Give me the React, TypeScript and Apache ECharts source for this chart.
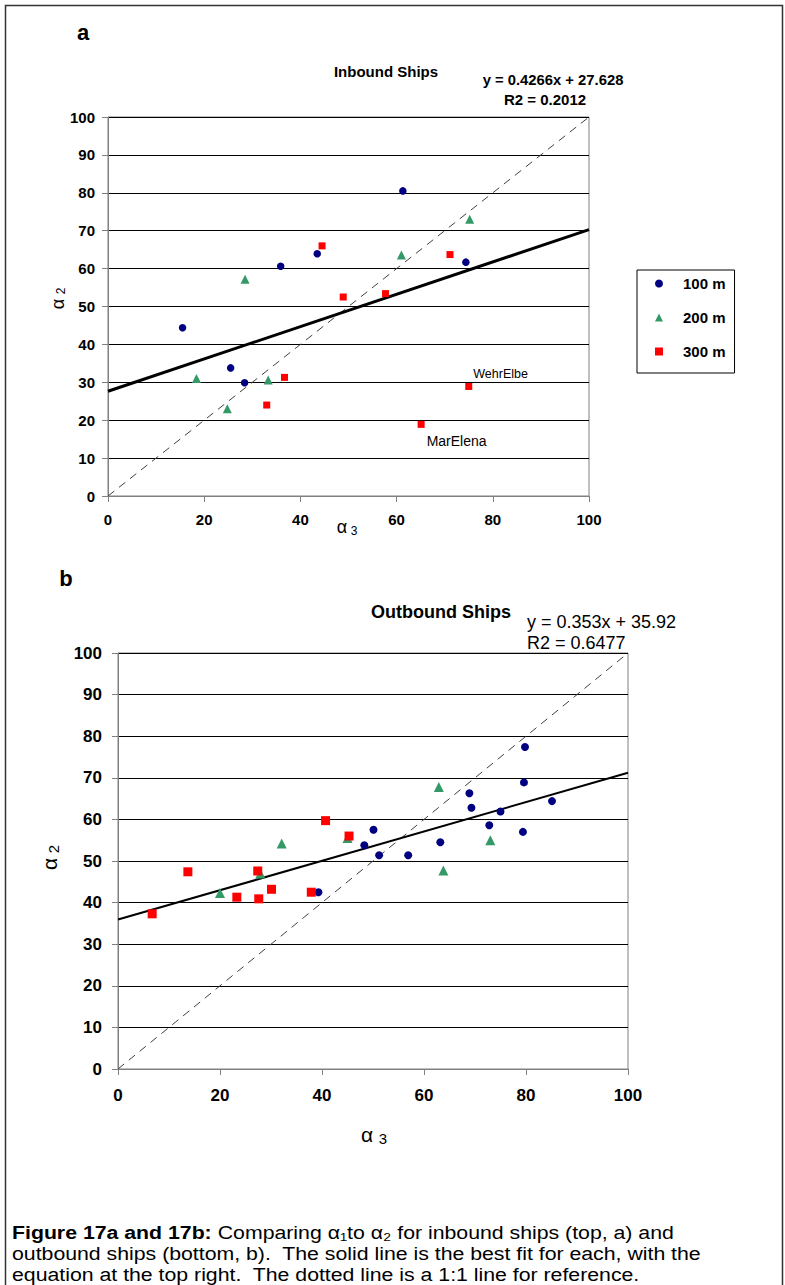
import React, { useEffect, useRef } from 'react';
import * as echarts from 'echarts';

const FONT = '"Liberation Sans", Arial, Helvetica, sans-serif';

// ---------- data: inbound ships (chart a) ----------
const inbound100: number[][] = [
  [15.5, 44.4], [25.5, 33.8], [28.4, 29.9], [35.9, 60.6], [43.5, 63.9], [61.3, 80.5], [74.4, 61.7],
];
const inbound200: number[][] = [
  [18.4, 31.0], [24.8, 23.0], [28.5, 57.2], [33.3, 30.6], [61.0, 63.6], [75.2, 73.0],
];
const inbound300: number[][] = [
  [33.0, 24.0], [36.7, 31.3], [44.5, 66.0], [48.9, 52.5], [57.7, 53.4], [71.1, 63.7], [75.0, 28.9], [65.1, 18.9],
];
const inbound300Names: string[] = ['', '', '', '', '', '', 'WehrElbe', 'MarElena'];
const inboundSlope = 0.4266;
const inboundIntercept = 27.628;
const inboundR2 = 0.2012;

// ---------- data: outbound ships (chart b) ----------
const outbound100: number[][] = [
  [39.3, 42.5], [48.3, 53.8], [50.1, 57.5], [51.2, 51.4], [56.9, 51.4], [63.2, 54.5], [68.9, 66.3],
  [69.3, 62.8], [72.8, 58.6], [75.0, 61.9], [79.8, 77.4], [79.6, 68.9], [79.4, 57.0], [85.1, 64.4],
];
const outbound200: number[][] = [
  [20.0, 42.3], [27.9, 47.0], [32.1, 54.2], [45.0, 55.5], [62.9, 67.8], [63.8, 47.7], [73.0, 55.0],
];
const outbound300: number[][] = [
  [6.7, 37.3], [13.7, 47.4], [23.3, 41.3], [27.4, 47.6], [27.6, 40.9], [30.1, 43.2], [37.9, 42.5], [40.7, 59.7], [45.3, 56.0],
];
const outboundSlope = 0.353;
const outboundIntercept = 35.92;
const outboundR2 = 0.6477;

const seriesNames = ['100 m', '200 m', '300 m'];
const seriesColors = ['#000080', '#339966', '#FF0000'];
const seriesSymbols = ['circle', 'triangle', 'rect'];
const axisMin = 0;
const axisMax = 100;

const captionBold = 'Figure 17a and 17b:';
const captionRest = [
  ' Comparing α₁to α₂ for inbound ships (top, a) and',
  'outbound ships (bottom, b).  The solid line is the best fit for each, with the',
  'equation at the top right.  The dotted line is a 1:1 line for reference.',
];

function buildOption() {
  const xAxisBase = (gridIndex: number, fontSize: number, margin: number) => ({
    gridIndex,
    type: 'value',
    min: axisMin,
    max: axisMax,
    interval: 20,
    axisLine: { show: true, onZero: false, lineStyle: { color: '#808080', width: 1 } },
    axisTick: { show: true, length: 6, lineStyle: { color: '#808080' } },
    axisLabel: { fontFamily: FONT, fontWeight: 'bold', fontSize, color: '#000', margin },
    splitLine: { show: false },
  });
  const yAxisBase = (gridIndex: number, fontSize: number, margin: number) => ({
    gridIndex,
    type: 'value',
    min: axisMin,
    max: axisMax,
    interval: 10,
    axisLine: { show: true, onZero: false, lineStyle: { color: '#808080', width: 1 } },
    axisTick: { show: true, length: 6, lineStyle: { color: '#808080' } },
    axisLabel: { fontFamily: FONT, fontWeight: 'bold', fontSize, color: '#000', margin },
    splitLine: { show: true, lineStyle: { color: '#000', width: 1 } },
  });

  const trend = (idx: number, slope: number, intercept: number, width: number) => ({
    type: 'line',
    xAxisIndex: idx,
    yAxisIndex: idx,
    data: [[axisMin, slope * axisMin + intercept], [axisMax, slope * axisMax + intercept]],
    symbol: 'none',
    silent: true,
    lineStyle: { color: '#000', width },
    z: 2,
  });
  const oneToOne = (idx: number) => ({
    type: 'line',
    xAxisIndex: idx,
    yAxisIndex: idx,
    data: [[axisMin, axisMin], [axisMax, axisMax]],
    symbol: 'none',
    silent: true,
    lineStyle: { color: '#404040', width: 1, type: [8, 6] },
    z: 2,
  });
  const scatter = (idx: number, k: number, data: any[], size: number) => ({
    type: 'scatter',
    name: seriesNames[k],
    xAxisIndex: idx,
    yAxisIndex: idx,
    symbol: seriesSymbols[k],
    symbolSize: size,
    itemStyle: { color: seriesColors[k], opacity: 1 },
    data,
    z: 3 + k,
  });

  const in300Data = inbound300.map((p, i) => {
    const name = inbound300Names[i];
    if (!name) return p;
    const isWehr = name === 'WehrElbe';
    return {
      value: p,
      label: {
        show: true,
        formatter: name,
        position: isWehr ? [8, -9] : [9, 20],
        align: 'left',
        verticalAlign: 'middle',
        fontFamily: FONT,
        fontSize: isWehr ? 12.5 : 14,
        color: '#000',
      },
    };
  });

  const txt = (x: number, y: number, text: string, fontSize: number, bold: boolean, align = 'center', extra: any = {}) => ({
    type: 'text',
    x,
    y,
    silent: true,
    style: {
      text,
      fontFamily: FONT,
      fontSize,
      fontWeight: bold ? 'bold' : 'normal',
      fill: '#000',
      align,
      verticalAlign: 'middle',
      ...extra,
    },
  });

  const alphaName = (x: number, y: number, sub: string, aSize: number, sSize: number, dx: number, dy: number, rotate: boolean) => ({
    type: 'group',
    x,
    y,
    rotation: rotate ? Math.PI / 2 : 0,
    silent: true,
    children: [
      txt(0, 0, 'α', aSize, false),
      txt(dx, dy, sub, sSize, false),
    ],
  });

  return {
    animation: false,
    backgroundColor: '#fff',
    grid: [
      { left: 108, top: 117, width: 481, height: 379, show: true, borderColor: '#808080', borderWidth: 1, backgroundColor: 'transparent' },
      { left: 118, top: 653, width: 510, height: 416, show: true, borderColor: '#808080', borderWidth: 1, backgroundColor: 'transparent' },
    ],
    xAxis: [xAxisBase(0, 15, 16), xAxisBase(1, 17, 18)],
    yAxis: [yAxisBase(0, 15, 13), yAxisBase(1, 17, 16)],
    legend: {
      show: true,
      orient: 'vertical',
      left: 637,
      top: 270,
      data: seriesNames.map((n, k) => ({ name: n, icon: seriesSymbols[k] })),
      itemWidth: 8,
      itemHeight: 8,
      itemGap: 19,
      padding: [6, 9, 14, 18],
      borderColor: '#000',
      borderWidth: 1,
      backgroundColor: '#fff',
      selectedMode: false,
      textStyle: { fontFamily: FONT, fontWeight: 'bold', fontSize: 15, color: '#000', padding: [0, 0, 0, 15] },
    },
    series: [
      oneToOne(0),
      trend(0, inboundSlope, inboundIntercept, 3),
      scatter(0, 0, inbound100, 7.5),
      scatter(0, 1, inbound200, 9),
      scatter(0, 2, in300Data, 7),
      oneToOne(1),
      trend(1, outboundSlope, outboundIntercept, 2),
      scatter(1, 0, outbound100, 8),
      scatter(1, 1, outbound200, 10),
      scatter(1, 2, outbound300, 9),
    ],
    graphic: [
      {
        type: 'rect',
        silent: true,
        shape: { x: 5.5, y: 5.5, width: 777, height: 1300 },
        style: { fill: 'none', stroke: '#333', lineWidth: 1.5 },
        z: -1,
      },
      txt(83, 32, 'a', 22, true),
      txt(386, 71, 'Inbound Ships', 15, true),
      txt(553, 80, `y = ${inboundSlope}x + ${inboundIntercept}`, 14.8, true),
      txt(545, 99, `R2 = ${inboundR2}`, 15, true),
      alphaName(342, 527, '3', 18, 12, 12, 4, false),
      alphaName(58, 304, '2', 18, 12, 13, 3, true),
      txt(66, 578, 'b', 22, true),
      txt(441, 612, 'Outbound Ships', 18, true),
      txt(527, 622, `y = ${outboundSlope}x + ${outboundIntercept}`, 18, false, 'left'),
      txt(527, 643, `R2 = ${outboundR2}`, 18, false, 'left'),
      alphaName(367, 1134, '3', 21, 15, 16, 4, false),
      alphaName(49, 864, '2', 21, 15, 15, 4, true),
      {
        type: 'text',
        x: 12,
        y: 1221.5,
        scaleX: 1.12,
        silent: true,
        style: {
          text: `{b|${captionBold}}${captionRest[0]}\n${captionRest[1]}\n${captionRest[2]}`,
          rich: { b: { fontWeight: 'bold', fontFamily: FONT, fontSize: 19, lineHeight: 21, fill: '#000' } },
          fontFamily: FONT,
          fontSize: 19,
          lineHeight: 21,
          fill: '#000',
          align: 'left',
          verticalAlign: 'top',
        },
      },
    ],
  };
}

export default function App() {
  const ref = useRef<HTMLDivElement>(null);
  useEffect(() => {
    if (!ref.current) return;
    const chart = echarts.init(ref.current, null, { renderer: 'svg' });
    chart.setOption(buildOption() as any);
    return () => {
      chart.dispose();
    };
  }, []);
  return (
    <div
      ref={ref}
      style={{ position: 'absolute', left: 0, top: 0, width: 785, height: 1285, background: '#fff' }}
    />
  );
}
